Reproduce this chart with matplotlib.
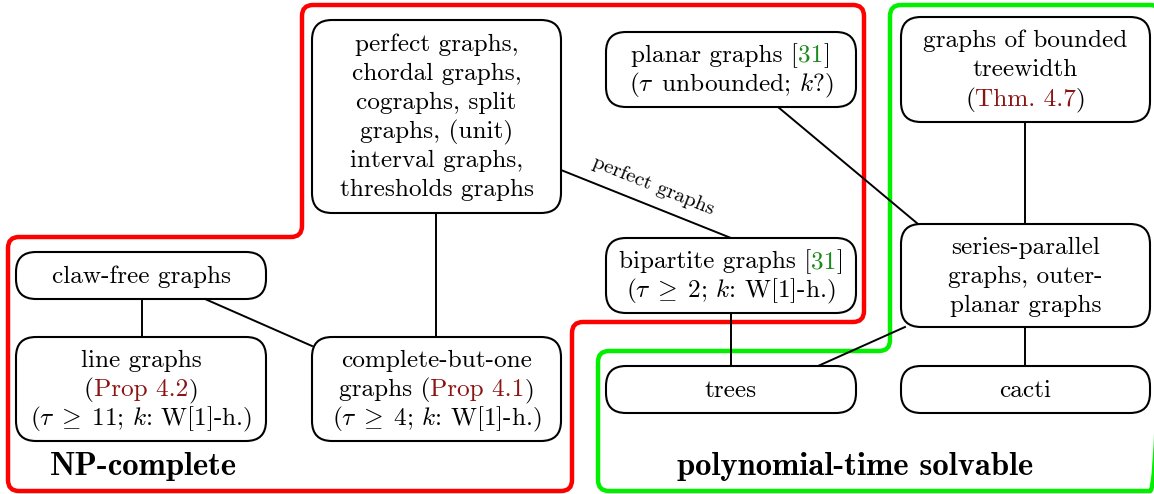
import matplotlib
matplotlib.use("Agg")
import matplotlib.pyplot as plt
from matplotlib.patches import FancyBboxPatch, PathPatch
from matplotlib.path import Path
import numpy as np

plt.rcParams['font.family'] = 'cmr10'
plt.rcParams['mathtext.fontset'] = 'cm'
plt.rcParams['axes.unicode_minus'] = False

DARKRED = '#8b1414'
CITE = '#1a8a1a'

# node labels: each line is a list of (text, colour) pieces
node_names = ['perfect', 'planar', 'treewidth', 'clawfree', 'line', 'cbo',
              'bipartite', 'series', 'trees', 'cacti']
node_labels = {
    'perfect': [[("perfect graphs,", 'k')], [("chordal graphs,", 'k')],
                [("cographs, split", 'k')], [("graphs, (unit)", 'k')],
                [("interval graphs,", 'k')], [("thresholds graphs", 'k')]],
    'planar': [[("planar graphs [", 'k'), ("31", CITE), ("]", 'k')],
               [(r"($\tau\,$ unbounded; $k$?)", 'k')]],
    'treewidth': [[("graphs of bounded", 'k')], [("treewidth", 'k')],
                  [("(", 'k'), ("Thm. 4.7", DARKRED), (")", 'k')]],
    'clawfree': [[("claw-free graphs", 'k')]],
    'line': [[("line graphs", 'k')], [("(", 'k'), ("Prop 4.2", DARKRED), (")", 'k')],
             [(r"($\tau\;\geq\;11$; $k$: W[1]-h.)", 'k')]],
    'cbo': [[("complete-but-one", 'k')],
            [("graphs (", 'k'), ("Prop 4.1", DARKRED), (")", 'k')],
            [(r"($\tau\;\geq\;4$; $k$: W[1]-h.)", 'k')]],
    'bipartite': [[("bipartite graphs [", 'k'), ("31", CITE), ("]", 'k')],
                  [(r"($\tau\;\geq\;2$; $k$: W[1]-h.)", 'k')]],
    'series': [[("series-parallel", 'k')], [("graphs, outer-", 'k')],
               [("planar graphs", 'k')]],
    'trees': [[("trees", 'k')]],
    'cacti': [[("cacti", 'k')]],
}
# node boxes (left, top, right, bottom) in pixels
node_boxes = {
    'perfect': (312, 20, 561, 213),
    'planar': (606, 32, 856, 107),
    'treewidth': (901, 17, 1150, 122),
    'clawfree': (16, 252, 266, 299),
    'line': (16, 337, 266, 441),
    'cbo': (312, 337, 561, 441),
    'bipartite': (606, 238, 856, 313),
    'series': (901, 224, 1150, 327),
    'trees': (606, 366, 856, 413),
    'cacti': (901, 366, 1150, 413),
}
edges = [((436, 213), (436, 337)),
         ((561, 170), (731, 238)),
         ((778, 107), (918, 224)),
         ((1025, 122), (1025, 224)),
         ((142, 299), (142, 337)),
         ((205, 299), (312, 346)),
         ((731, 313), (731, 366)),
         ((905, 327), (818, 366)),
         ((1025, 327), (1025, 366))]

red_region = [(302, 5), (864, 5), (864, 322), (572, 322), (572, 491),
              (8, 491), (8, 237), (302, 237)]
green_region = [(890, 5), (1161, 5), (1161, 491), (598, 491), (598, 351),
                (890, 351)]


def rounded_path(pts, r):
    pts = [np.array(p, float) for p in pts]
    n = len(pts)
    verts, codes = [], []
    for i in range(n):
        p0, p1, p2 = pts[i - 1], pts[i], pts[(i + 1) % n]
        d1 = (p0 - p1) / np.linalg.norm(p0 - p1)
        d2 = (p2 - p1) / np.linalg.norm(p2 - p1)
        a = p1 + d1 * r
        b = p1 + d2 * r
        verts.append(a)
        codes.append(Path.MOVETO if i == 0 else Path.LINETO)
        verts += [p1, b]
        codes += [Path.CURVE3, Path.CURVE3]
    verts.append(verts[0])
    codes.append(Path.CLOSEPOLY)
    return Path(verts, codes)


fig = plt.figure(figsize=(11.54, 4.94), dpi=100)
ax = fig.add_axes([0, 0, 1, 1])
ax.set_xlim(0, 1154)
ax.set_ylim(494, 0)
ax.axis('off')
renderer = fig.canvas.get_renderer()

ax.add_patch(PathPatch(rounded_path(red_region, 11), fill=False,
                       edgecolor='#ff0000', lw=3.2, zorder=1))
ax.add_patch(PathPatch(rounded_path(green_region, 11), fill=False,
                       edgecolor='#00f000', lw=3.2, zorder=1, clip_on=True))

for (x0, y0), (x1, y1) in edges:
    ax.plot([x0, x1], [y0, y1], color='k', lw=1.4, zorder=2)

FS = 18.2
LINE_H = 29


def draw_line(pieces, xc, yb, fs=FS):
    texts = []
    widths = []
    for s, c in pieces:
        t = ax.text(0, yb, s, color=c, fontsize=fs, ha='left', va='baseline',
                    zorder=5)
        widths.append(t.get_window_extent(renderer).width)
        texts.append(t)
    x = xc - sum(widths) / 2
    for t, w in zip(texts, widths):
        t.set_x(x)
        x += w


for name in node_names:
    l, t, r, b = node_boxes[name]
    h = b - t
    rad = min(20, h / 2)
    ax.add_patch(FancyBboxPatch((l, t), r - l, h,
                                boxstyle=f"round,pad=0,rounding_size={rad}",
                                facecolor='white', edgecolor='k', lw=1.5,
                                zorder=3))
    lines = node_labels[name]
    yc = (t + b) / 2
    y_first = yc - (len(lines) - 1) * LINE_H / 2
    for i, pieces in enumerate(lines):
        draw_line(pieces, (l + r) / 2, y_first + i * LINE_H + 7)

ax.text(653, 186, "perfect graphs", fontsize=15, rotation=-22,
        rotation_mode='anchor', ha='center', va='center', zorder=5)

ax.text(143, 466, "NP-complete", family='cmb10', fontsize=23.5,
        ha='center', va='center', zorder=5)
ax.text(855, 466, "polynomial-time solvable", family='cmb10', fontsize=23.5,
        ha='center', va='center', zorder=5)

fig.savefig('out.png', dpi=100)
